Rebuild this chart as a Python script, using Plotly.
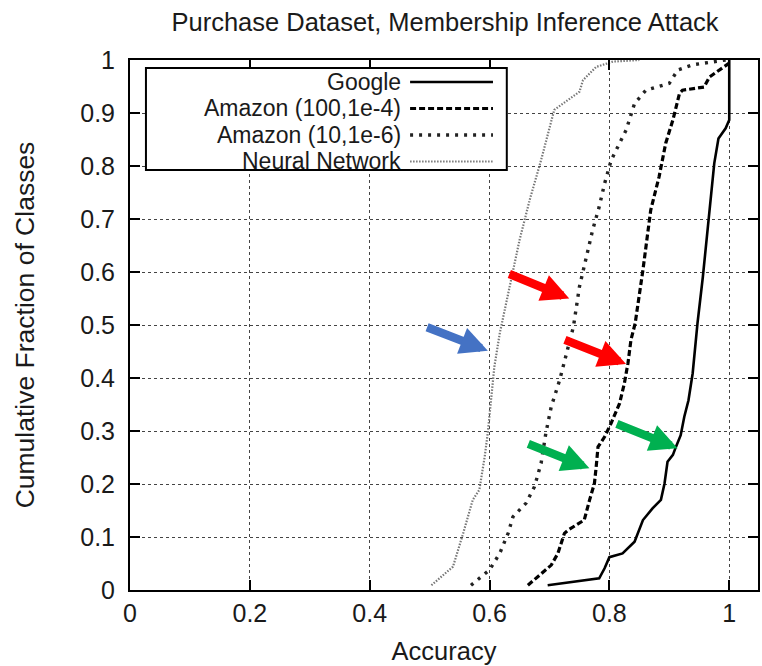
import plotly.graph_objects as go

# ---- data ----
series_names = ["Google", "Amazon (100,1e-4)", "Amazon (10,1e-6)", "Neural Network"]

google_x = [0.697, 0.783, 0.792, 0.800, 0.822, 0.842, 0.856, 0.872, 0.886, 0.892, 0.897, 0.906,
            0.911, 0.919, 0.925, 0.932, 0.939, 0.947, 0.956, 0.967, 0.975, 0.982, 0.994, 1.0, 1.0]
google_y = [0.009, 0.022, 0.041, 0.062, 0.069, 0.091, 0.132, 0.154, 0.170, 0.201, 0.242, 0.255,
            0.270, 0.292, 0.327, 0.358, 0.409, 0.503, 0.591, 0.711, 0.805, 0.852, 0.871, 0.887, 1.0]

amazon100_x = [0.664, 0.703, 0.714, 0.725, 0.731, 0.758, 0.767, 0.775, 0.778, 0.781, 0.792, 0.803,
               0.817, 0.825, 0.831, 0.836, 0.843, 0.856, 0.869, 0.883, 0.894, 0.906, 0.917, 0.922,
               0.958, 0.967, 1.0]
amazon100_y = [0.009, 0.047, 0.069, 0.107, 0.113, 0.132, 0.170, 0.201, 0.233, 0.270, 0.289, 0.315,
               0.352, 0.390, 0.428, 0.472, 0.503, 0.604, 0.717, 0.780, 0.843, 0.887, 0.937, 0.943,
               0.949, 0.968, 0.994]

amazon10_x = [0.569, 0.600, 0.617, 0.631, 0.639, 0.661, 0.675, 0.686, 0.694, 0.703, 0.717, 0.728,
              0.740, 0.750, 0.772, 0.783, 0.792, 0.803, 0.817, 0.828, 0.842, 0.861, 0.900, 0.914,
              0.939, 0.972, 0.994]
amazon10_y = [0.009, 0.038, 0.069, 0.107, 0.138, 0.164, 0.195, 0.239, 0.296, 0.346, 0.396, 0.447,
              0.497, 0.572, 0.679, 0.723, 0.767, 0.811, 0.843, 0.868, 0.918, 0.943, 0.956, 0.981,
              0.991, 0.997, 1.0]

nn_x = [0.503, 0.539, 0.556, 0.572, 0.583, 0.592, 0.597, 0.603, 0.608, 0.617, 0.623, 0.636, 0.650,
        0.667, 0.686, 0.708, 0.750, 0.756, 0.778, 0.806, 0.850]
nn_y = [0.009, 0.044, 0.107, 0.170, 0.189, 0.252, 0.296, 0.358, 0.421, 0.484, 0.515, 0.585, 0.660,
        0.736, 0.811, 0.906, 0.940, 0.962, 0.987, 0.997, 1.0]

x_ticks = [0, 0.2, 0.4, 0.6, 0.8, 1]
y_ticks = [0, 0.1, 0.2, 0.3, 0.4, 0.5, 0.6, 0.7, 0.8, 0.9, 1]

# ---- styles ----
FONT = "Liberation Sans, Arial, sans-serif"
TXT = "#1a1a1a"
styles = [
    dict(color="black", width=2.6, dash="solid"),
    dict(color="black", width=3.2, dash="6px,3px"),
    dict(color="#222222", width=3.4, dash="3px,6px"),
    dict(color="#777777", width=2.2, dash="1.5px,1.5px"),
]
xs = [google_x, amazon100_x, amazon10_x, nn_x]
ys = [google_y, amazon100_y, amazon10_y, nn_y]

fig = go.Figure()
for name, x, y, st in zip(series_names, xs, ys, styles):
    fig.add_trace(go.Scatter(x=x, y=y, mode="lines", name=name, line=st,
                             showlegend=False))

# ---- gnuplot-style legend box (text right-aligned, sample on the right) ----
box_x0, box_x1, box_y0, box_y1 = 0.0254, 0.600, 0.7925, 0.985
fig.add_shape(type="rect", xref="paper", yref="paper", x0=box_x0, x1=box_x1, y0=box_y0, y1=box_y1,
              line=dict(color="black", width=2), fillcolor="white", layer="above")
row_y = [0.9585, 0.9085, 0.8585, 0.8085]
for name, st, ry in zip(series_names, styles, row_y):
    fig.add_annotation(xref="paper", yref="paper", x=0.4333, y=ry, text=name, showarrow=False,
                       xanchor="right", yanchor="middle", borderpad=0,
                       font=dict(family=FONT, size=23, color=TXT))
    fig.add_shape(type="line", xref="paper", yref="paper", x0=0.446, x1=0.578, y0=ry, y1=ry,
                  line=st, layer="above")

# ---- coloured arrows overlaid on the chart ----
arrows = [
    ("#FF0000", 0.733, 0.550, 0.6305, 0.5975),
    ("#FF0000", 0.8278, 0.4264, 0.7233, 0.4730),
    ("#4472C4", 0.5972, 0.4515, 0.4933, 0.4968),
    ("#00B050", 0.7667, 0.2296, 0.6622, 0.2768),
    ("#00B050", 0.9138, 0.2674, 0.8100, 0.3145),
]
for col, tx, ty, axx, ayy in arrows:
    fig.add_annotation(x=tx, y=ty, ax=axx, ay=ayy, xref="x", yref="y", axref="x", ayref="y",
                       text="", showarrow=True, arrowhead=2, arrowsize=0.65, arrowwidth=8.5,
                       arrowcolor=col, standoff=0)

axis_common = dict(
    showline=True, linecolor="black", linewidth=2, mirror="ticks",
    ticks="inside", ticklen=10, tickwidth=1.5, tickcolor="black",
    showgrid=True, gridcolor="#444444", gridwidth=1, griddash="dot",
    zeroline=False,
    tickfont=dict(family=FONT, size=25, color=TXT),
)

fig.update_xaxes(range=[0, 1.048], tickvals=x_ticks, ticktext=[f"{v:g}" for v in x_ticks],
                 title=dict(text="Accuracy", font=dict(family=FONT, size=25.5, color=TXT), standoff=16),
                 ticklabelstandoff=0, **axis_common)
fig.update_yaxes(range=[0, 1], tickvals=y_ticks, ticktext=[f"{v:g}" for v in y_ticks],
                 title=dict(text="Cumulative Fraction of Classes",
                            font=dict(family=FONT, size=26.5, color=TXT), standoff=38),
                 ticklabelstandoff=8, **axis_common)

fig.update_layout(
    width=762, height=666,
    margin=dict(l=130, r=2, t=60, b=76),
    paper_bgcolor="white", plot_bgcolor="white",
    title=dict(text="Purchase Dataset, Membership Inference Attack", x=0.584, xref="container",
               y=1 - 22 / 666, yref="container", xanchor="center", yanchor="middle",
               font=dict(family=FONT, size=25.5, color=TXT)),
    showlegend=False,
)

fig.write_html("out.html")
